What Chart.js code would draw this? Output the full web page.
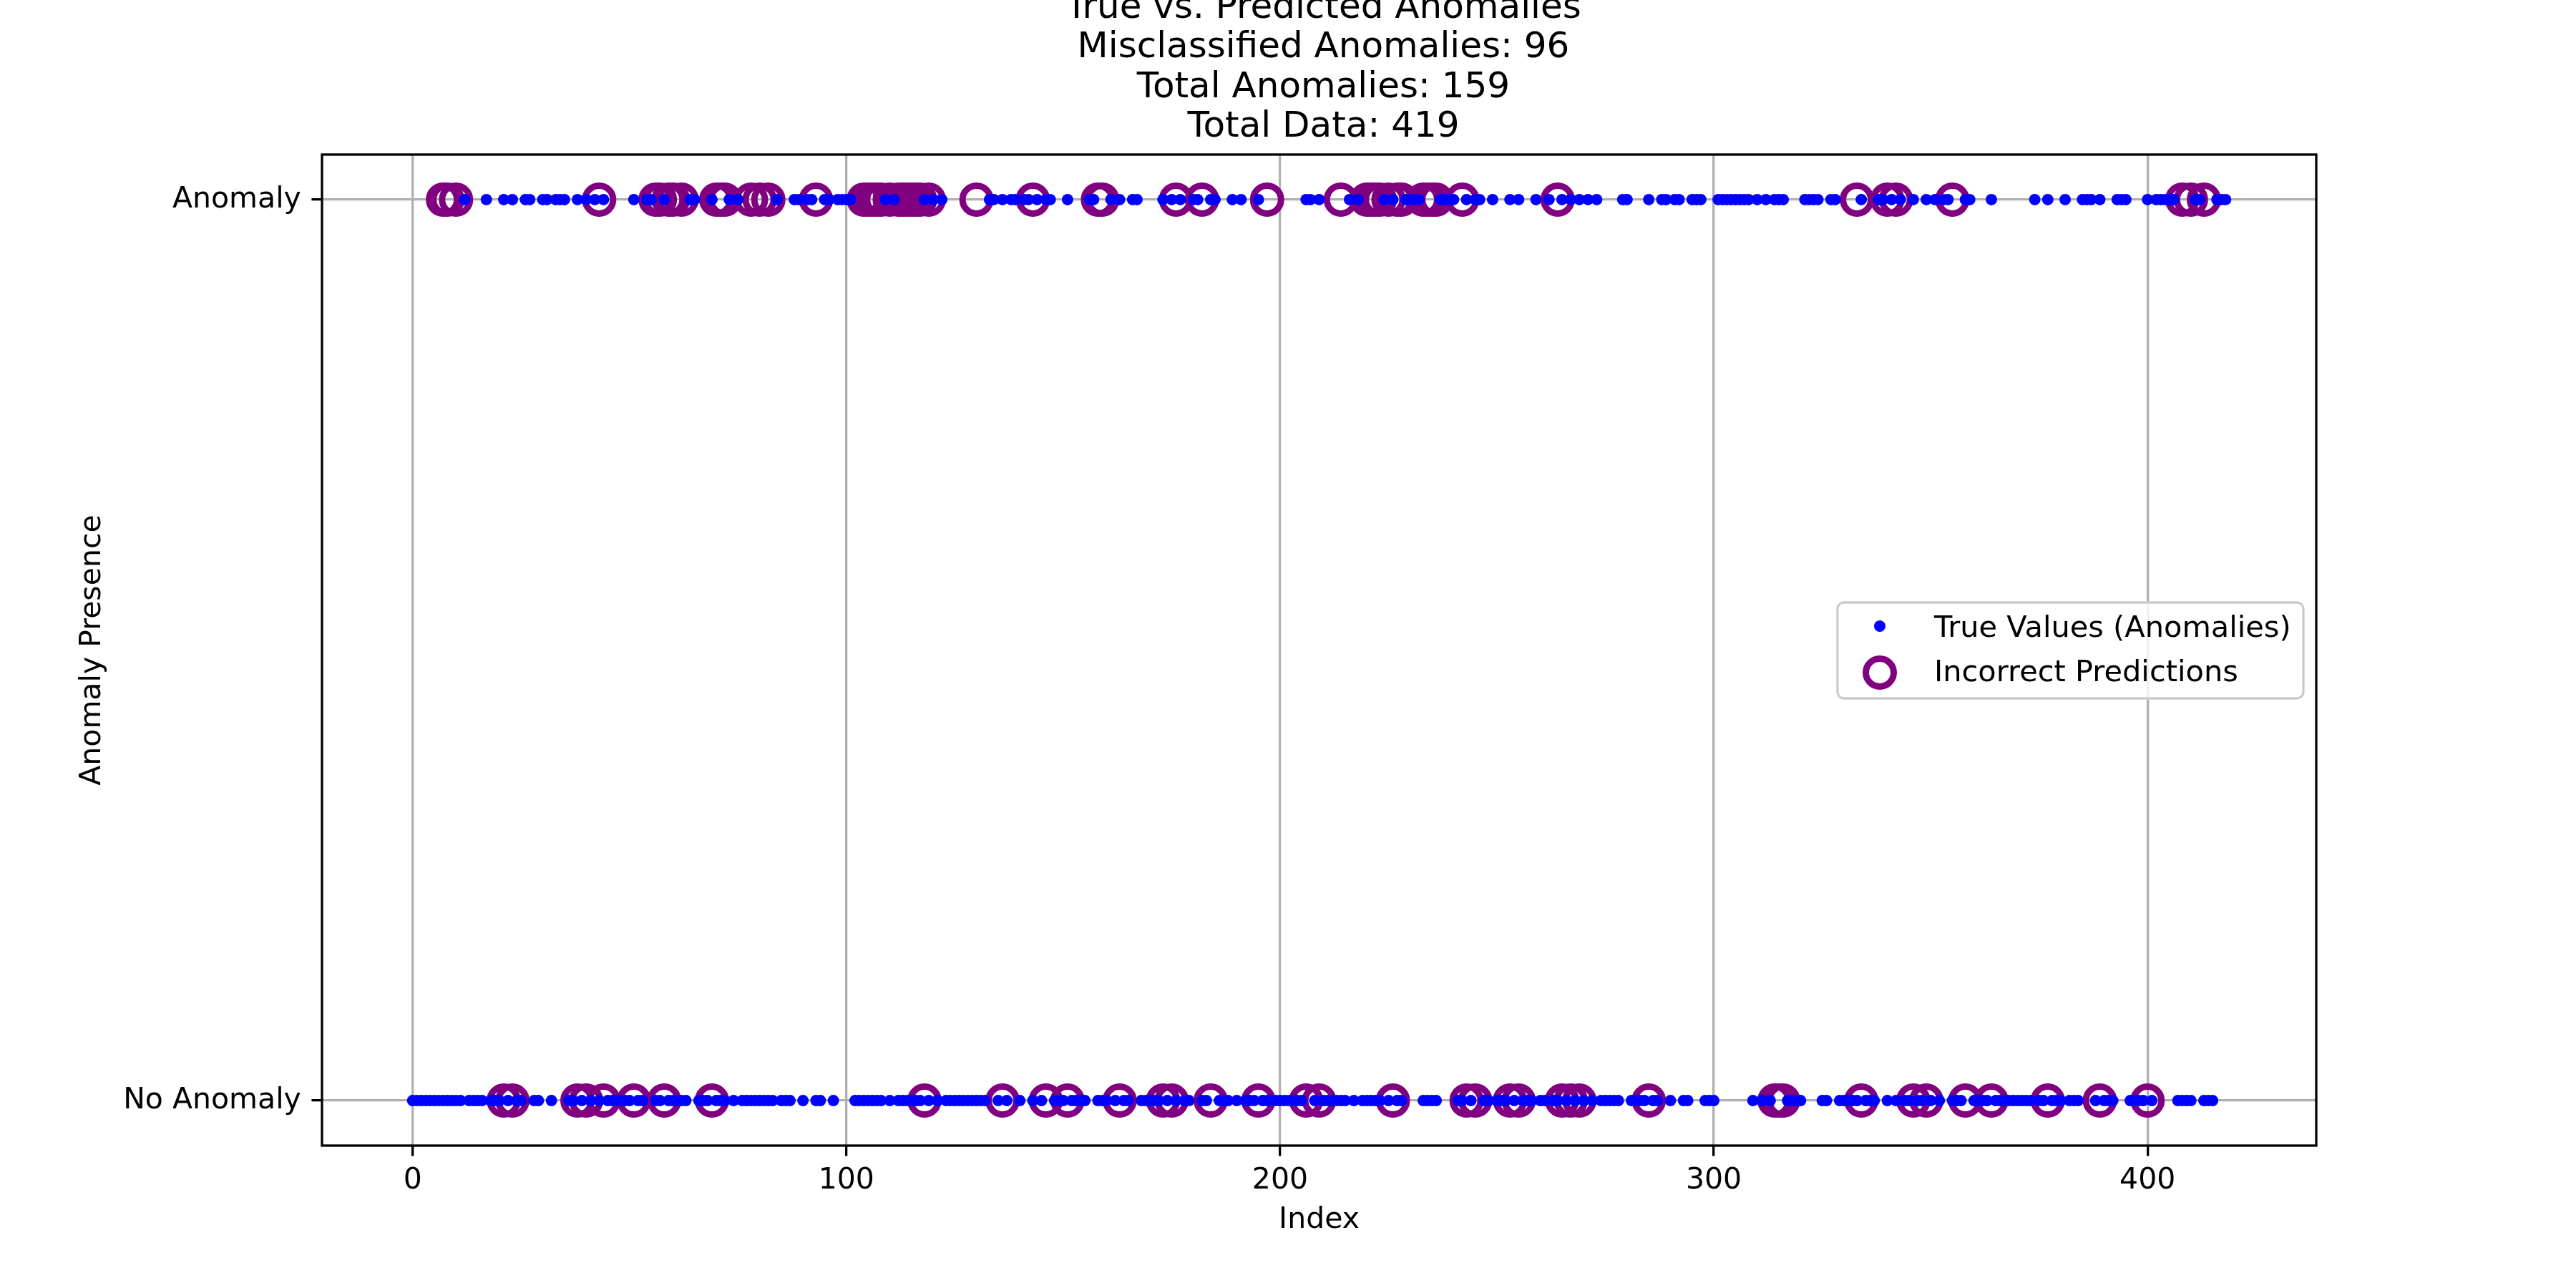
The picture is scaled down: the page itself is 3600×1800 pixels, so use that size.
<!DOCTYPE html>
<html>
<head>
<meta charset="utf-8">
<script src="https://cdn.jsdelivr.net/npm/chart.js"></script>
<style>
  html, body { margin: 0; padding: 0; background: #fff; }
  canvas { display: block; }
</style>
</head>
<body>
<canvas id="chart" width="3600" height="1800" style="width:3600px;height:1800px"></canvas>

<script>
// ---- data ----
const totalData = 419;

// indices whose true value is "Anomaly" (blue dots on the top row)
const anomalyIdx = [
  12, 17, 21, 23, 26, 27, 30, 31, 33, 34, 35, 38, 40, 42, 44, 51, 54, 55, 58, 64, 65, 69, 73, 75, 84,
  88, 89, 91, 92, 95, 96, 98, 99, 100, 101, 109, 111, 118, 120, 122, 133, 134, 136, 138, 139, 141,
  142, 144, 146, 147, 151, 156, 157, 161, 163, 166, 167,
  173, 175, 177, 180, 181, 184, 185, 189, 191, 195, 206, 207, 209, 216, 218, 224, 226, 229, 230,
  231, 232, 237, 238, 239, 240, 243, 245, 246, 249, 253, 255, 259,
  262, 265, 267, 269, 271, 273, 279, 280, 285, 288, 289, 291, 292, 295, 296, 297, 301, 302, 303,
  304, 305, 306, 307, 308, 310, 312, 314, 315, 316, 321, 322, 323, 324, 327, 328, 334, 338, 339,
  341, 343, 346,
  349, 351, 353, 354, 358, 359, 364, 374, 377, 381, 385, 386, 387, 389, 393, 394, 395, 400, 402,
  403, 404, 405, 406, 411, 412, 416, 417, 418
];

// misclassified points, drawn at the predicted value
const wrongPredAnomaly = [
  7, 8, 10, 43, 56, 57, 59, 60, 62, 70, 71, 72, 78, 80, 82, 93, 104, 105, 106, 107, 108, 110, 112,
  113, 114, 115, 116, 117, 119, 130, 143, 158, 159, 176, 182, 197, 214, 220, 221, 222, 223, 225,
  227, 228, 233, 234, 235, 236, 242, 264, 333, 340, 342, 355, 408, 410, 413
];
const wrongPredNormal = [
  21, 23, 38, 40, 44, 51, 58, 69, 118, 136, 146, 151, 163, 173, 175, 184, 195, 206, 209, 226, 243,
  245, 253, 255, 265, 267, 269, 285, 314, 315, 316, 334, 346, 349, 358, 364, 377, 389, 400
];

const xTicks = [0, 100, 200, 300, 400];
const yTicks = [0, 1];
const yTickLabels = ['No Anomaly', 'Anomaly'];

const titleLines = [
  'True vs. Predicted Anomalies',
  'Misclassified Anomalies: 96',
  'Total Anomalies: 159',
  'Total Data: 419'
];
const legendLabels = ['True Values (Anomalies)', 'Incorrect Predictions'];

// ---- build points ----
const anomalySet = new Set(anomalyIdx);
const truePoints = [];
for (let i = 0; i < totalData; i++) {
  truePoints.push({ x: i, y: anomalySet.has(i) ? 1 : 0 });
}
const wrongPoints = wrongPredAnomaly.map(i => ({ x: i, y: 1 }))
  .concat(wrongPredNormal.map(i => ({ x: i, y: 0 })));

const FONT = 'DejaVu Sans';
const BLUE = '#0000ff';
const PURPLE = '#800080';
const GRID = '#b0b0b0';
const LW = 3.3;

Chart.defaults.font.family = FONT;
Chart.defaults.color = '#000';

// frame, title and legend in matplotlib style
const decorations = {
  id: 'decorations',
  afterDraw(chart) {
    const { ctx, chartArea: a } = chart;
    ctx.save();

    // axes frame
    ctx.strokeStyle = '#000';
    ctx.lineWidth = LW;
    ctx.strokeRect(a.left, a.top, a.right - a.left, a.bottom - a.top);

    // title, stacked upward from the axes top
    ctx.fillStyle = '#000';
    ctx.font = '50px "' + FONT + '"';
    ctx.textAlign = 'center';
    ctx.textBaseline = 'alphabetic';
    const cx = (a.left + a.right) / 2 + 6;
    const spacing = 55.5;
    for (let k = 0; k < titleLines.length; k++) {
      const fromBottom = titleLines.length - 1 - k;
      ctx.fillText(titleLines[k], cx, a.top - 25 - fromBottom * spacing);
    }

    // legend
    const bx = 2568, by = 842, bw = 651, bh = 134, r = 9;
    ctx.beginPath();
    ctx.moveTo(bx + r, by);
    ctx.arcTo(bx + bw, by, bx + bw, by + bh, r);
    ctx.arcTo(bx + bw, by + bh, bx, by + bh, r);
    ctx.arcTo(bx, by + bh, bx, by, r);
    ctx.arcTo(bx, by, bx + bw, by, r);
    ctx.closePath();
    ctx.fillStyle = 'rgba(255,255,255,0.8)';
    ctx.fill();
    ctx.strokeStyle = '#cccccc';
    ctx.lineWidth = LW;
    ctx.stroke();

    ctx.fillStyle = BLUE;
    ctx.beginPath();
    ctx.arc(2627, 875, 8, 0, Math.PI * 2);
    ctx.fill();

    ctx.strokeStyle = PURPLE;
    ctx.lineWidth = 9;
    ctx.beginPath();
    ctx.arc(2627, 940, 19.5, 0, Math.PI * 2);
    ctx.stroke();

    ctx.fillStyle = '#000';
    ctx.font = '41.5px "' + FONT + '"';
    ctx.textAlign = 'left';
    ctx.fillText(legendLabels[0], 2703, 890);
    ctx.fillText(legendLabels[1], 2703, 952);

    ctx.restore();
  }
};

new Chart(document.getElementById('chart').getContext('2d'), {
  type: 'scatter',
  data: {
    datasets: [
      {
        label: legendLabels[0],
        data: truePoints,
        backgroundColor: BLUE,
        borderWidth: 0,
        pointRadius: 8,
        order: 0
      },
      {
        label: legendLabels[1],
        data: wrongPoints,
        backgroundColor: 'rgba(0,0,0,0)',
        borderColor: PURPLE,
        borderWidth: 9,
        pointRadius: 19.5,
        order: 1
      }
    ]
  },
  options: {
    responsive: false,
    devicePixelRatio: 1,
    animation: false,
    events: [],
    layout: { padding: { left: 0, top: 216, right: 363, bottom: 0 } },
    plugins: {
      legend: { display: false },
      title: { display: false },
      tooltip: { enabled: false }
    },
    scales: {
      x: {
        type: 'linear',
        min: -20.9,
        max: 438.9,
        afterBuildTicks: s => { s.ticks = xTicks.map(v => ({ value: v })); },
        afterFit: s => { s.height = 199; },
        grid: { color: GRID, lineWidth: LW, tickColor: '#000', tickWidth: LW, tickLength: 14.6 },
        border: { display: false },
        ticks: { font: { size: 41 }, color: '#000', padding: 10, maxRotation: 0 },
        title: {
          display: true, text: 'Index', color: '#000',
          font: { size: 41, lineHeight: 1.2 }, padding: { top: 0, bottom: 70 }
        }
      },
      y: {
        type: 'linear',
        min: -0.05,
        max: 1.05,
        afterBuildTicks: s => { s.ticks = yTicks.map(v => ({ value: v })); },
        afterFit: s => { s.width = 450; },
        grid: { color: GRID, lineWidth: LW, tickColor: '#000', tickWidth: LW, tickLength: 14.6 },
        border: { display: false },
        ticks: {
          font: { size: 41 }, color: '#000', padding: 14.6,
          callback: v => yTickLabels[yTicks.indexOf(v)]
        },
        title: {
          display: true, text: 'Anomaly Presence', color: '#000',
          font: { size: 41, lineHeight: 1.2 }, padding: { top: 105, bottom: 0 }
        }
      }
    }
  },
  plugins: [decorations]
});
</script>
</body>
</html>
